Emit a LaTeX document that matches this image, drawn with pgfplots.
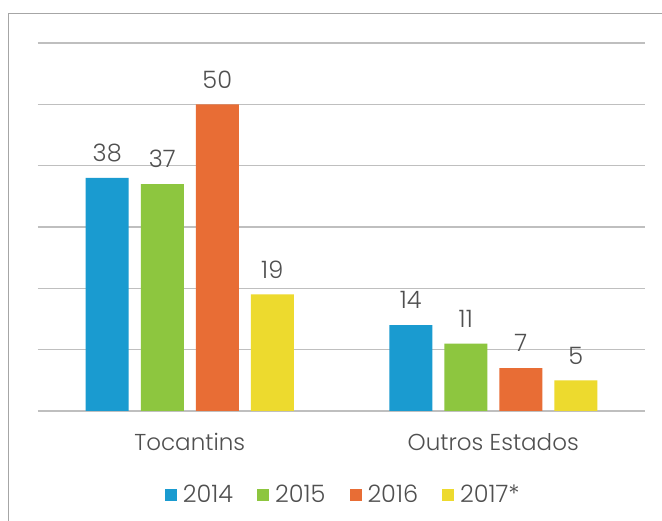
\documentclass[border=0pt]{standalone}
\usepackage{pgfplots}
\pgfplotsset{compat=1.18}
\usepackage{fontspec}
\setmainfont{Poppins Light}
\definecolor{c14}{HTML}{1A9BD0}
\definecolor{c15}{HTML}{8DC63F}
\definecolor{c16}{HTML}{E86D35}
\definecolor{c17}{HTML}{EDDA2E}
\definecolor{grid}{HTML}{D9D9D9}
\definecolor{txt}{HTML}{505050}
\definecolor{frame}{HTML}{A6A6A6}
\begin{document}
\begin{tikzpicture}[x=1pt,y=1pt]
\useasboundingbox (0,0) rectangle (662,521);
\fill[white] (0,0) rectangle (662,521);
\draw[frame, line width=1.6pt] (8.5,-2) -- (8.5,507.5) -- (665,507.5);
\begin{axis}[
  at={(38pt,110pt)}, anchor=south west,
  scale only axis, width=607pt, height=368pt,
  ymin=0, ymax=60, xmin=-0.5, xmax=1.5,
  ytick={0,10,...,60}, yticklabels={},
  xtick={0,1}, xticklabels={Tocantins,Outros Estados},
  major tick length=0pt, tick style={draw=none},
  xmajorgrids=false,
  axis line style={draw=none},
  ymajorgrids, grid style={grid, line width=1.6pt},
  /pgf/number format/assume math mode=true,
  ybar=12pt, bar width=43pt,
  xticklabel style={font=\fontsize{23}{26}\selectfont, text=txt, anchor=center, yshift=-31pt},
  nodes near coords,
  every node near coord/.append style={font=\fontsize{24}{26}\selectfont, text=txt, anchor=south, inner sep=0pt, yshift=16pt},
  legend style={at={(0.503,-0.228)}, anchor=center, draw=none, legend columns=-1,
    font=\fontsize{24}{26}\selectfont, text=txt,
    /tikz/every odd column/.append style={column sep=4pt},
    /tikz/every even column/.append style={column sep=22pt}},
  legend image code/.code={\fill[#1] (0pt,-6pt) rectangle (12pt,6pt);},
]
\addplot[fill=c14, draw=none] coordinates {(0,38) (1,14)};
\addplot[fill=c15, draw=none] coordinates {(0,37) (1,11)};
\addplot[fill=c16, draw=none] coordinates {(0,50) (1,7)};
\addplot[fill=c17, draw=none] coordinates {(0,19) (1,5)};
\legend{2014,2015,2016,2017*}
\end{axis}
\end{tikzpicture}
\end{document}
